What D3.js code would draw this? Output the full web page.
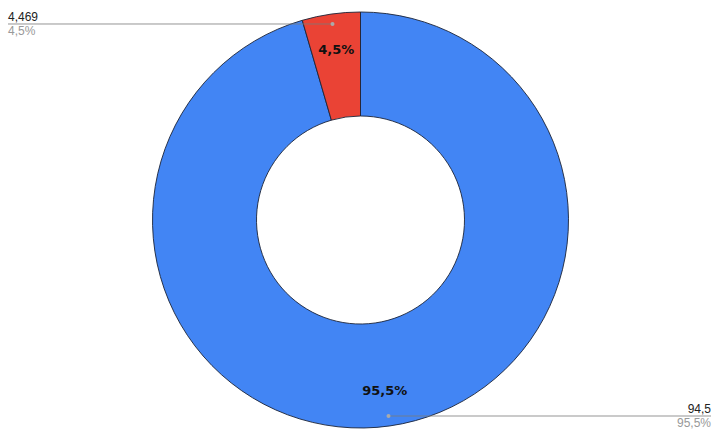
<!DOCTYPE html>
<html>
<head>
<meta charset="utf-8">
<script src="https://cdn.jsdelivr.net/npm/d3@7"></script>
<style>
html,body{margin:0;padding:0;background:#fff;}
svg{display:block;}
</style>
</head>
<body>
<svg id="chart" width="724" height="438"></svg>
<script>
const categories = ["A", "B"];
const values = [94.5, 4.469];
const valueLabels = ["94,5", "4,469"];
const colors = ["#4285f4", "#ea4335"];

const W = 724, H = 438;
const cx = 360.5, cy = 220, rOuter = 208, rInner = 104;
const svg = d3.select("#chart");
const g = svg.append("g").attr("transform", `translate(${cx},${cy})`);

const total = d3.sum(values);
const fmtPct = v => d3.format(".1f")(v).replace(".", ",") + "%";
const pie = d3.pie().sort(null).value(d => d.v);
const data = pie(values.map((v, i) => ({ v, i, cat: categories[i] })));
const arc = d3.arc().innerRadius(rInner).outerRadius(rOuter);

g.selectAll("path.slice").data(data).join("path")
  .attr("class", "slice")
  .attr("d", arc)
  .attr("fill", d => colors[d.data.i])
  .attr("stroke", "#1b2438")
  .attr("stroke-width", 0.9);

const mid = d => (d.startAngle + d.endAngle) / 2;
const pt = (a, r) => [Math.sin(a) * r, -Math.cos(a) * r];

// slice labels
g.selectAll("text.pct").data(data).join("text")
  .attr("class", "pct")
  .attr("x", d => pt(mid(d), 172)[0])
  .attr("y", d => pt(mid(d), 172)[1])
  .attr("dy", "0.35em")
  .attr("text-anchor", "middle")
  .attr("font-family", "DejaVu Sans, Verdana, sans-serif")
  .attr("font-weight", "bold")
  .attr("font-size", 13)
  .attr("fill", "#111")
  .text(d => fmtPct(d.data.v / total * 100));

// leader lines and outside labels
data.forEach(d => {
  const [dx, dy] = pt(mid(d), 198);
  const left = dx < 0;
  const xEnd = left ? 8 - cx : 711 - cx;
  g.append("line")
    .attr("x1", dx).attr("y1", dy)
    .attr("x2", xEnd).attr("y2", dy)
    .attr("stroke", "#7a7a7a").attr("stroke-opacity", 0.8).attr("stroke-width", 1);
  g.append("circle").attr("cx", dx).attr("cy", dy).attr("r", 2)
    .attr("fill", "#aaa");
  const anchor = left ? "start" : "end";
  const tx = left ? 8 - cx : 711 - cx;
  g.append("text").attr("x", tx).attr("y", dy - 3.5)
    .attr("text-anchor", anchor)
    .attr("font-family", "Liberation Sans, Arial, sans-serif")
    .attr("font-size", 12).attr("fill", "#222")
    .text(valueLabels[d.data.i]);
  g.append("text").attr("x", tx).attr("y", dy + 11)
    .attr("text-anchor", anchor)
    .attr("font-family", "Liberation Sans, Arial, sans-serif")
    .attr("font-size", 12).attr("fill", "#999")
    .text(fmtPct(d.data.v / total * 100));
});
</script>
</body>
</html>
